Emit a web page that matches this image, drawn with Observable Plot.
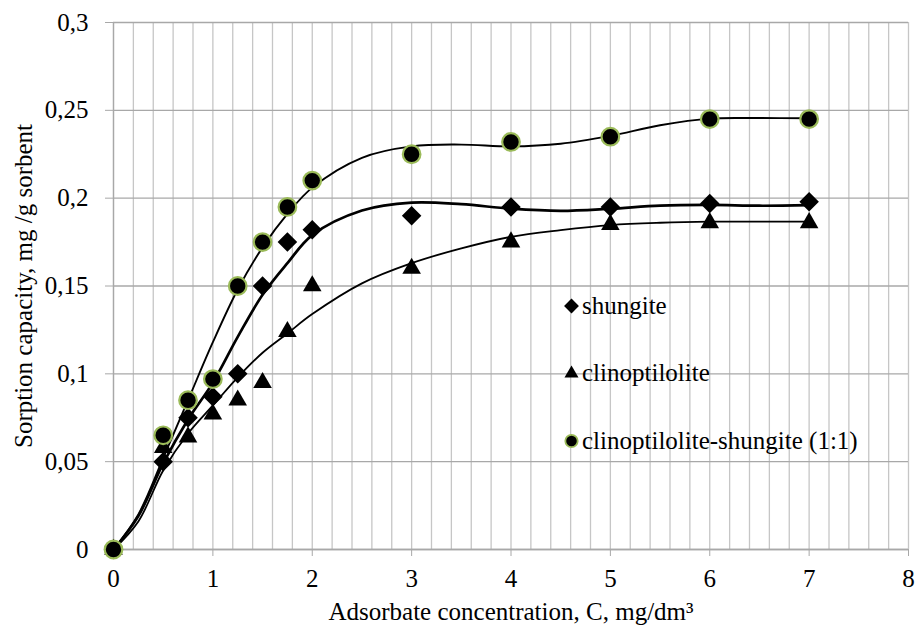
<!DOCTYPE html>
<html>
<head>
<meta charset="utf-8">
<script src="https://cdn.jsdelivr.net/npm/d3@7"></script>
<script src="https://cdn.jsdelivr.net/npm/@observablehq/plot@0.6"></script>
<style>
  html, body { margin: 0; padding: 0; background: #fff; }
  #chart { width: 916px; height: 628px; }
</style>
</head>
<body>
<div id="chart"></div>
<script>
// ---- data ----
const conc = [0, 0.5, 0.75, 1, 1.25, 1.5, 1.75, 2, 3, 4, 5, 6, 7];
const shungite = [0, 0.05, 0.075, 0.087, 0.1, 0.15, 0.175, 0.182, 0.19, 0.195, 0.195, 0.197, 0.198];
const clino = [0, 0.058, 0.064, 0.077, 0.085, 0.095, 0.124, 0.15, 0.16, 0.175, 0.185, 0.186, 0.186];
const mix = [0, 0.065, 0.085, 0.097, 0.15, 0.175, 0.195, 0.21, 0.225, 0.232, 0.235, 0.245, 0.245];

// trend curves
const fitX = [0, 0.25, 0.5, 0.75, 1, 1.25, 1.5, 1.75, 2, 2.5, 3, 3.5, 4, 4.5, 5, 5.5, 6, 6.5, 7];
const fitShungite = [0, 0.019, 0.049, 0.074, 0.095, 0.121, 0.145, 0.163, 0.179, 0.193, 0.1975, 0.1966, 0.194, 0.1928, 0.194, 0.1958, 0.1962, 0.1957, 0.196];
const fitClino = [0, 0.016, 0.045, 0.066, 0.082, 0.098, 0.112, 0.123, 0.134, 0.1515, 0.163, 0.1714, 0.178, 0.1818, 0.1847, 0.186, 0.1866, 0.1866, 0.1866];
const fitMix = [0, 0.02, 0.052, 0.085, 0.118, 0.148, 0.172, 0.191, 0.206, 0.223, 0.2295, 0.2305, 0.2295, 0.231, 0.2355, 0.2415, 0.2453, 0.2456, 0.2455];

const seriesNames = ["shungite", "clinoptilolite", "clinoptilolite-shungite (1:1)"];
const xTicks = [0, 1, 2, 3, 4, 5, 6, 7, 8];
const xGridStep = 0.2;
const yTicks = [0, 0.05, 0.1, 0.15, 0.2, 0.25, 0.3];
const yTickLabels = ["0", "0,05", "0,1", "0,15", "0,2", "0,25", "0,3"];
const xTitle = "Adsorbate concentration, C, mg/dm³";
const yTitle = "Sorption capacity, mg /g sorbent";

// ---- tables ----
const pts = (ys) => conc.map((x, i) => ({x, y: ys[i]}));
const fit = (ys) => fitX.map((x, i) => ({x, y: ys[i]}));
const xGrid = d3.range(0, 8 + 1e-9, xGridStep);

const FONT = "Liberation Serif";
const green = "#9bbb59";
const gridV = "#c6c6c6";
const gridH = "#a8a8a8";

const chart = Plot.plot({
  width: 916,
  height: 628,
  marginLeft: 113,
  marginRight: 8,
  marginTop: 22,
  marginBottom: 79,
  x: {domain: [0, 8]},
  y: {domain: [0, 0.3]},
  marks: [
    Plot.ruleX(xGrid, {stroke: gridV, strokeWidth: 1.3}),
    Plot.ruleY(yTicks, {stroke: gridH, strokeWidth: 1.3}),
    Plot.axisX({ticks: xTicks, tickSize: 7, tickPadding: 13, stroke: gridH, fill: "#000", label: null, fontSize: 25}),
    Plot.axisY({ticks: yTicks, tickSize: 8, tickPadding: 17, stroke: gridH, fill: "#000", label: null, fontSize: 25,
      tickFormat: (d) => yTickLabels[yTicks.indexOf(d)]}),
    Plot.ruleX([0], {stroke: gridH, strokeWidth: 1.3}),
    Plot.ruleY([0], {stroke: gridH, strokeWidth: 1.3}),
    // trend lines
    Plot.line(fit(fitClino), {x: "x", y: "y", stroke: "#000", strokeWidth: 1.8, curve: "catmull-rom"}),
    Plot.line(fit(fitShungite), {x: "x", y: "y", stroke: "#000", strokeWidth: 2.7, curve: "catmull-rom"}),
    Plot.line(fit(fitMix), {x: "x", y: "y", stroke: "#000", strokeWidth: 1.9, curve: "catmull-rom"}),
    // markers
    Plot.dot(pts(shungite), {x: "x", y: "y", symbol: "diamond2", r: 8.8, fill: "#000", stroke: "none"}),
    Plot.dot(pts(clino), {x: "x", y: "y", symbol: "triangle", r: 6.9, fill: "#000", stroke: "none"}),
    Plot.dot(pts(mix), {x: "x", y: "y", symbol: "circle", r: 8.8, fill: "#000", stroke: green, strokeWidth: 2.2}),
    // titles
    Plot.text([xTitle], {text: (d) => d, frameAnchor: "bottom", lineAnchor: "middle", textAnchor: "middle", dy: 62, fontSize: 25, fill: "#000"}),
    Plot.text([yTitle], {text: (d) => d, frameAnchor: "left", lineAnchor: "middle", textAnchor: "middle", dx: -90, rotate: -90, fontSize: 25, fill: "#000"})
  ]
});
document.getElementById("chart").appendChild(chart);

// ---- legend (inside the plot area) ----
const svg = d3.select(chart);
const legendSymbols = [d3.symbolDiamond2, d3.symbolTriangle, d3.symbolCircle];
const legendSizes = [140, 85, 120];
const lg = svg.append("g").attr("font-size", 25).attr("text-anchor", "start");
seriesNames.forEach((name, i) => {
  const cy = 306 + i * 67.5;
  const g = lg.append("g").attr("transform", `translate(571.5,${cy})`);
  const p = g.append("path").attr("d", d3.symbol(legendSymbols[i], legendSizes[i])()).attr("fill", "#000");
  if (i === 2) p.attr("stroke", green).attr("stroke-width", 1.8);
  lg.append("text").attr("x", 582).attr("y", cy + 7.5).attr("fill", "#000").attr("text-anchor", "start").text(name);
});

// serif typeface everywhere
svg.attr("font-family", FONT).style("font-family", FONT);
svg.selectAll("g, text").attr("font-family", FONT).style("font-family", FONT);
</script>
</body>
</html>
